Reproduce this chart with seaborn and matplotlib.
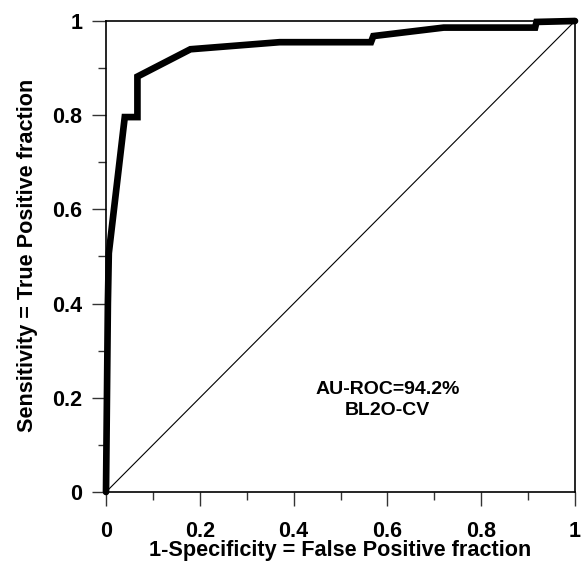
import matplotlib
matplotlib.use("Agg")
import matplotlib.pyplot as plt
import seaborn as sns
import pandas as pd
from matplotlib.ticker import MultipleLocator

sns.set_theme(style="white")
plt.rcParams['font.family'] = ['Liberation Sans', 'DejaVu Sans']
plt.rcParams['font.weight'] = 'bold'
plt.rcParams['text.color'] = 'black'
plt.rcParams['axes.labelcolor'] = 'black'
plt.rcParams['xtick.labelcolor'] = 'black'
plt.rcParams['ytick.labelcolor'] = 'black'

fpr = [0.0, 0.002, 0.004, 0.006, 0.040, 0.067, 0.067, 0.180, 0.370, 0.565, 0.570, 0.720, 0.915, 0.918, 1.0]
tpr = [0.0, 0.200, 0.400, 0.507, 0.796, 0.796, 0.882, 0.940, 0.955, 0.955, 0.968, 0.986, 0.986, 0.998, 1.0]
diag = [0.0, 1.0]

df = pd.DataFrame({"fpr": fpr, "tpr": tpr})
dd = pd.DataFrame({"x": diag, "y": diag})

fig = plt.figure(figsize=(5.81, 5.62), dpi=100)
ax = fig.add_axes([106/581, 1-492/562, 469/581, 471/562])

sns.lineplot(data=dd, x="x", y="y", ax=ax, color="black", linewidth=0.8, sort=False, estimator=None)
sns.lineplot(data=df, x="fpr", y="tpr", ax=ax, color="black", linewidth=4.8, sort=False,
             estimator=None, solid_joinstyle="miter", clip_on=False)

ax.set_xlim(0, 1)
ax.set_ylim(0, 1)
ax.xaxis.set_minor_locator(MultipleLocator(0.1))
ax.yaxis.set_minor_locator(MultipleLocator(0.1))
ax.set_xticks([0, 0.2, 0.4, 0.6, 0.8, 1.0])
ax.set_xticklabels(["0", "0.2", "0.4", "0.6", "0.8", "1"])
ax.set_yticks([0, 0.2, 0.4, 0.6, 0.8, 1.0])
ax.set_yticklabels(["0", "0.2", "0.4", "0.6", "0.8", "1"])
ax.tick_params(axis="both", which="major", direction="out", length=10, width=1,
               color="#333333", labelsize=15.5, labelcolor="black", bottom=True, left=True)
ax.tick_params(axis="x", which="major", pad=11)
ax.tick_params(axis="y", which="major", pad=7)
ax.tick_params(axis="both", which="minor", direction="out", length=5.5, width=1,
               color="#333333", bottom=True, left=True)
for lab in ax.get_xticklabels() + ax.get_yticklabels():
    lab.set_fontweight("bold")

for s in ax.spines.values():
    s.set_visible(True)
    s.set_color("black")
    s.set_linewidth(1.2)

ax.set_xlabel("1-Specificity = False Positive fraction", fontsize=15.6, fontweight="bold",
              va="center", color="black")
ax.xaxis.set_label_coords(0.5, -0.125)
ax.set_ylabel("Sensitivity = True Positive fraction", fontsize=15.6, fontweight="bold",
              va="center", color="black")
ax.yaxis.set_label_coords(-0.168, 0.503)

ax.text(0.6, 0.195, "AU-ROC=94.2%\nBL2O-CV", ha="center", va="center", fontsize=14,
        fontweight="bold", linespacing=1.35, color="black")

fig.savefig("out.png", dpi=100)
